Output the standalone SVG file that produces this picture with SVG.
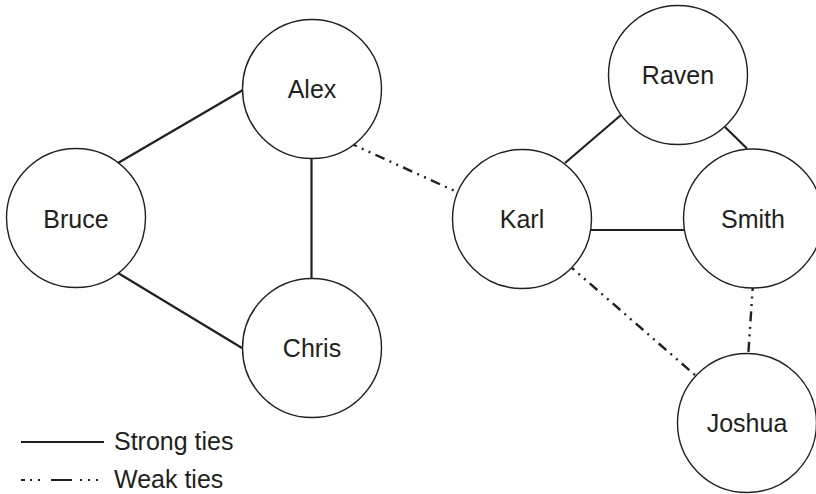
<svg xmlns="http://www.w3.org/2000/svg" width="816" height="494" viewBox="0 0 816 494">
  <style>
    .node circle { fill: #ffffff; stroke: #231f20; stroke-width: 1.4; }
    .node text, .legend text { font-family: "Liberation Sans", Arial, Helvetica, sans-serif; font-size: 25px; fill: #231f20; text-anchor: middle; }
    .legend text { text-anchor: start; }
    .strong { stroke: #231f20; stroke-width: 2.2; fill: none; }
    .weak { stroke: #231f20; stroke-width: 2.4; fill: none; stroke-dasharray: 10 5.5 2 5.5 2 5.5; stroke-dashoffset: 7; }
  </style>
  <rect width="816" height="494" fill="#ffffff"/>

  <!-- ties between people -->
  <g id="connectors">
    <line class="strong" x1="118" y1="163" x2="243" y2="90"/>
    <line class="strong" x1="118" y1="273" x2="242" y2="348"/>
    <line class="strong" x1="311.5" y1="158" x2="311.5" y2="279"/>
    <line class="strong" x1="565" y1="163" x2="621" y2="115"/>
    <line class="strong" x1="725" y1="127" x2="747" y2="148.5"/>
    <line class="strong" x1="590.5" y1="230" x2="684.5" y2="230"/>
    <line class="weak" x1="354" y1="145" x2="457" y2="192"/>
    <line class="weak" x1="572" y1="268" x2="695" y2="375"/>
    <line class="weak" x1="752.7" y1="288" x2="748.3" y2="354"/>
  </g>

  <g id="alex" class="node">
    <circle cx="312" cy="89" r="69.5"/>
    <text x="312" y="98">Alex</text>
  </g>
  <g id="bruce" class="node">
    <circle cx="76" cy="218" r="69.5"/>
    <text x="76" y="228">Bruce</text>
  </g>
  <g id="chris" class="node">
    <circle cx="312" cy="348" r="69.5"/>
    <text x="312" y="357">Chris</text>
  </g>
  <g id="karl" class="node">
    <circle cx="522" cy="219" r="69.5"/>
    <text x="522" y="228">Karl</text>
  </g>
  <g id="raven" class="node">
    <circle cx="678" cy="75" r="69.5"/>
    <text x="678" y="84">Raven</text>
  </g>
  <g id="smith" class="node">
    <circle cx="753" cy="218.5" r="69.5"/>
    <text x="753" y="228">Smith</text>
  </g>
  <g id="joshua" class="node">
    <circle cx="747" cy="423" r="69.5"/>
    <text x="747" y="432">Joshua</text>
  </g>

  <!-- key -->
  <g id="legend" class="legend">
    <line class="strong" x1="21" y1="442" x2="104" y2="442"/>
    <text x="114" y="450">Strong ties</text>
    <path d="M21 480h4M30 480h2M38 480h2M51 480h21M80 480h2M88 480h2M96 480h2" stroke="#231f20" stroke-width="2.2" fill="none"/>
    <text x="114" y="488">Weak ties</text>
  </g>
</svg>
